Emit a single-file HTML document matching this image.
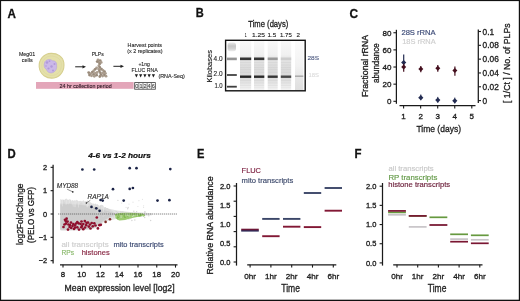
<!DOCTYPE html>
<html><head><meta charset="utf-8"><style>
html,body{margin:0;padding:0;background:#fff;}
body{width:520px;height:301px;overflow:hidden;}
svg{display:block;font-family:"Liberation Sans", sans-serif;will-change:transform;filter:blur(0.35px);}
</style></head><body>
<svg width="520" height="301" viewBox="0 0 520 301">
<rect x="0" y="0" width="520" height="301" fill="#fff"/>
<text x="7.4" y="17.5" font-size="12.5" fill="#111" text-anchor="start" stroke="#111" stroke-width="0.3" font-weight="bold" textLength="8.4" lengthAdjust="spacingAndGlyphs">A</text>
<text x="195.8" y="17.4" font-size="12.5" fill="#111" text-anchor="start" stroke="#111" stroke-width="0.3" font-weight="bold" textLength="8.0" lengthAdjust="spacingAndGlyphs">B</text>
<text x="349.6" y="17.6" font-size="12.5" fill="#111" text-anchor="start" stroke="#111" stroke-width="0.3" font-weight="bold" textLength="8.6" lengthAdjust="spacingAndGlyphs">C</text>
<text x="7.6" y="157.6" font-size="12.5" fill="#111" text-anchor="start" stroke="#111" stroke-width="0.3" font-weight="bold" textLength="8.2" lengthAdjust="spacingAndGlyphs">D</text>
<text x="197.0" y="157.8" font-size="12.5" fill="#111" text-anchor="start" stroke="#111" stroke-width="0.3" font-weight="bold" textLength="7.4" lengthAdjust="spacingAndGlyphs">E</text>
<text x="354.6" y="157.7" font-size="12.5" fill="#111" text-anchor="start" stroke="#111" stroke-width="0.3" font-weight="bold" textLength="7.0" lengthAdjust="spacingAndGlyphs">F</text>
<text x="18.9" y="55.8" font-size="5.8" fill="#262626" text-anchor="start" stroke="#262626" stroke-width="0.12" textLength="16.3" lengthAdjust="spacingAndGlyphs">Meg01</text>
<text x="21.8" y="62.1" font-size="5.8" fill="#262626" text-anchor="start" stroke="#262626" stroke-width="0.12" textLength="10.8" lengthAdjust="spacingAndGlyphs">cells</text>
<path d="M51,53.4 C57.5,53.2 62.8,56.5 63.8,62.5 C64.8,69.5 61.5,76.5 54,78 C46.5,79 40,74.5 39.2,67 C38.6,59.5 44,53.6 51,53.4 Z" fill="#e4e0aa" stroke="#d6cf8e" stroke-width="1.1"/>
<path d="M51,56 C56,56 60.5,58.8 61.2,63 C62,69 59,74.3 53.5,75.3 C47.5,76.2 42.5,72.5 41.8,66.5 C41.3,61 45.5,56.2 51,56 Z" fill="none" stroke="#ddd79e" stroke-width="0.7"/>
<path d="M46,60.5 C48,59 51,59.3 52.5,60.8 C55,60.5 57,62.5 56.6,65 C57.2,68 56,71.2 53,72.6 C50,73.6 47.2,72.2 46.5,69.5 C44.2,68.5 43.6,65 44.5,63 C44.6,62 45.2,61 46,60.5 Z" fill="#cbb9e8" stroke="#b39ddb" stroke-width="0.5"/>
<circle cx="47" cy="62.5" r="1.3" fill="#a88fd6" opacity="0.75"/>
<circle cx="49.5" cy="61.2" r="0.9" fill="#a88fd6" opacity="0.75"/>
<circle cx="51.5" cy="66.5" r="1.2" fill="#a88fd6" opacity="0.75"/>
<circle cx="54.5" cy="64" r="1.0" fill="#a88fd6" opacity="0.75"/>
<circle cx="48.5" cy="68.5" r="1.1" fill="#a88fd6" opacity="0.75"/>
<circle cx="53" cy="70.5" r="1.0" fill="#a88fd6" opacity="0.75"/>
<circle cx="46" cy="66" r="0.8" fill="#a88fd6" opacity="0.75"/>
<line x1="75.2" y1="66.8" x2="83.5" y2="66.8" stroke="#222" stroke-width="1"/>
<path d="M82.5,65.2 L86,66.8 L82.5,68.4 Z" fill="#222"/>
<line x1="113.4" y1="66.3" x2="121.5" y2="66.3" stroke="#222" stroke-width="1"/>
<path d="M120.5,64.7 L124,66.3 L120.5,67.9 Z" fill="#222"/>
<text x="91.7" y="55.8" font-size="5.8" fill="#262626" text-anchor="start" stroke="#262626" stroke-width="0.12" textLength="12" lengthAdjust="spacingAndGlyphs">PLPs</text>
<circle cx="98" cy="59.8" r="1.4" fill="#ab9d8e"/>
<circle cx="100.2" cy="60.6" r="1.4" fill="#998a7a"/>
<circle cx="99" cy="62.2" r="1.4" fill="#ab9d8e"/>
<circle cx="97.2" cy="61.6" r="1.4" fill="#998a7a"/>
<circle cx="101.2" cy="62.4" r="1.4" fill="#ab9d8e"/>
<circle cx="99.6" cy="64" r="1.4" fill="#998a7a"/>
<circle cx="98.8" cy="65.8" r="1.4" fill="#ab9d8e"/>
<circle cx="99.8" cy="67.5" r="1.4" fill="#998a7a"/>
<circle cx="98.8" cy="69.2" r="1.4" fill="#ab9d8e"/>
<circle cx="99.4" cy="71" r="1.4" fill="#998a7a"/>
<circle cx="96.6" cy="67.8" r="1.4" fill="#ab9d8e"/>
<circle cx="95.1" cy="69.3" r="1.4" fill="#998a7a"/>
<circle cx="93.7" cy="70.8" r="1.4" fill="#ab9d8e"/>
<circle cx="92.3" cy="72.2" r="1.4" fill="#998a7a"/>
<circle cx="90.9" cy="73.6" r="1.4" fill="#ab9d8e"/>
<circle cx="89.5" cy="75" r="1.4" fill="#998a7a"/>
<circle cx="91.5" cy="75.8" r="1.4" fill="#ab9d8e"/>
<circle cx="93.6" cy="74.4" r="1.4" fill="#998a7a"/>
<circle cx="95.3" cy="73.2" r="1.4" fill="#ab9d8e"/>
<circle cx="88.7" cy="72.6" r="1.4" fill="#998a7a"/>
<circle cx="94.3" cy="76.3" r="1.4" fill="#ab9d8e"/>
<circle cx="96.6" cy="75.2" r="1.4" fill="#998a7a"/>
<circle cx="97.2" cy="72.5" r="1.4" fill="#ab9d8e"/>
<circle cx="101.5" cy="69.2" r="1.4" fill="#998a7a"/>
<circle cx="103" cy="70.3" r="1.4" fill="#ab9d8e"/>
<circle cx="104.5" cy="71.6" r="1.4" fill="#998a7a"/>
<circle cx="105.4" cy="73.3" r="1.4" fill="#ab9d8e"/>
<circle cx="104.3" cy="75.1" r="1.4" fill="#998a7a"/>
<circle cx="102.6" cy="76.1" r="1.4" fill="#ab9d8e"/>
<circle cx="101" cy="74.6" r="1.4" fill="#998a7a"/>
<circle cx="106" cy="76.2" r="1.4" fill="#ab9d8e"/>
<circle cx="100.4" cy="72.8" r="1.4" fill="#998a7a"/>
<circle cx="103" cy="73.2" r="1.4" fill="#ab9d8e"/>
<circle cx="99.8" cy="76.5" r="1.4" fill="#998a7a"/>
<text x="127.6" y="46.9" font-size="5.8" fill="#262626" text-anchor="start" stroke="#262626" stroke-width="0.12" textLength="34.4" lengthAdjust="spacingAndGlyphs">Harvest points</text>
<text x="127.2" y="53.4" font-size="5.8" fill="#262626" text-anchor="start" stroke="#262626" stroke-width="0.12" textLength="35.4" lengthAdjust="spacingAndGlyphs">(x 2 replicates)</text>
<text x="138.4" y="65.9" font-size="6.0" fill="#262626" text-anchor="start" stroke="#262626" stroke-width="0.12" textLength="11.5" lengthAdjust="spacingAndGlyphs">+1ng</text>
<text x="131.5" y="71.9" font-size="6.0" fill="#262626" text-anchor="start" stroke="#262626" stroke-width="0.12" textLength="26.3" lengthAdjust="spacingAndGlyphs">FLUC RNA</text>
<path d="M134.8,74.3 L138.0,74.3 L136.4,77.5 Z" fill="#1a1a1a"/>
<path d="M139.05,74.3 L142.25,74.3 L140.65,77.5 Z" fill="#1a1a1a"/>
<path d="M143.3,74.3 L146.5,74.3 L144.9,77.5 Z" fill="#1a1a1a"/>
<path d="M147.55,74.3 L150.75,74.3 L149.15,77.5 Z" fill="#1a1a1a"/>
<path d="M151.8,74.3 L155.0,74.3 L153.4,77.5 Z" fill="#1a1a1a"/>
<text x="158.4" y="78.4" font-size="5.8" fill="#262626" text-anchor="start" stroke="#262626" stroke-width="0.12" textLength="26.5" lengthAdjust="spacingAndGlyphs">(RNA-Seq)</text>
<rect x="36" y="82" width="97.6" height="6.8" fill="#e3a6b9"/>
<text x="59.6" y="87.6" font-size="5.8" fill="#2a1520" text-anchor="start" stroke="#2a1520" stroke-width="0.1" textLength="52" lengthAdjust="spacingAndGlyphs">24 hr collection period</text>
<rect x="134.3" y="82.2" width="21.4" height="7.4" fill="#3a3a3a"/>
<rect x="135.1" y="83.0" width="3.5" height="5.8" fill="#fafafa"/>
<text x="136.85" y="87.7" font-size="5.6" fill="#444" text-anchor="middle" stroke="#444" stroke-width="0.1">0</text>
<rect x="139.2" y="83.0" width="3.5" height="5.8" fill="#fafafa"/>
<text x="140.95" y="87.7" font-size="5.6" fill="#444" text-anchor="middle" stroke="#444" stroke-width="0.1">1</text>
<rect x="143.29999999999998" y="83.0" width="3.5" height="5.8" fill="#fafafa"/>
<text x="145.04999999999998" y="87.7" font-size="5.6" fill="#444" text-anchor="middle" stroke="#444" stroke-width="0.1">2</text>
<rect x="147.4" y="83.0" width="3.5" height="5.8" fill="#fafafa"/>
<text x="149.15" y="87.7" font-size="5.6" fill="#444" text-anchor="middle" stroke="#444" stroke-width="0.1">4</text>
<rect x="151.5" y="83.0" width="3.5" height="5.8" fill="#fafafa"/>
<text x="153.25" y="87.7" font-size="5.6" fill="#444" text-anchor="middle" stroke="#444" stroke-width="0.1">6</text>
<text x="248.3" y="26.8" font-size="9.6" fill="#1e1e1e" text-anchor="start" stroke="#1e1e1e" stroke-width="0.32" textLength="40" lengthAdjust="spacingAndGlyphs">Time (days)</text>
<text x="244.7" y="37.4" font-size="5.8" fill="#1e1e1e" text-anchor="start" stroke="#1e1e1e" stroke-width="0.12" textLength="1.8" lengthAdjust="spacingAndGlyphs">1</text>
<text x="252" y="37.4" font-size="5.8" fill="#1e1e1e" text-anchor="start" stroke="#1e1e1e" stroke-width="0.12" textLength="13" lengthAdjust="spacingAndGlyphs">1.25</text>
<text x="267.6" y="37.4" font-size="5.8" fill="#1e1e1e" text-anchor="start" stroke="#1e1e1e" stroke-width="0.12" textLength="8.7" lengthAdjust="spacingAndGlyphs">1.5</text>
<text x="280" y="37.4" font-size="5.8" fill="#1e1e1e" text-anchor="start" stroke="#1e1e1e" stroke-width="0.12" textLength="11.8" lengthAdjust="spacingAndGlyphs">1.75</text>
<text x="296.5" y="37.4" font-size="5.8" fill="#1e1e1e" text-anchor="start" stroke="#1e1e1e" stroke-width="0.12" textLength="3.5" lengthAdjust="spacingAndGlyphs">2</text>
<defs><linearGradient id="lane" x1="0" y1="0" x2="0" y2="1"><stop offset="0" stop-color="#f8f8f8"/><stop offset="0.28" stop-color="#f0f0f0"/><stop offset="0.36" stop-color="#e4e4e4"/><stop offset="0.55" stop-color="#dcdcdc"/><stop offset="0.72" stop-color="#dadada"/><stop offset="0.82" stop-color="#e2e2e2"/><stop offset="1" stop-color="#f4f4f4"/></linearGradient><linearGradient id="lanef" x1="0" y1="0" x2="0" y2="1"><stop offset="0" stop-color="#fbfbfb"/><stop offset="0.5" stop-color="#f2f2f2"/><stop offset="0.75" stop-color="#e6e6e6"/><stop offset="1" stop-color="#dedede"/></linearGradient><linearGradient id="blob" x1="0" y1="0" x2="0" y2="1"><stop offset="0" stop-color="#e8e8e8"/><stop offset="0.4" stop-color="#c6c6c6"/><stop offset="0.7" stop-color="#d2d2d2"/><stop offset="1" stop-color="#ececec"/></linearGradient></defs>
<rect x="225.5" y="40.3" width="80" height="50.5" fill="#fff"/>
<rect x="227.6" y="42.6" width="8.4" height="8.6" fill="url(#blob)" rx="2.5"/>
<rect x="227" y="57.6" width="9.8" height="2.6" fill="#959595"/>
<rect x="227" y="74" width="9.8" height="2" fill="#555"/>
<rect x="227" y="85.8" width="9.8" height="1.8" fill="#3f3f3f"/>
<rect x="240" y="41" width="11.199999999999989" height="49.5" fill="url(#lane)"/>
<rect x="240" y="57.5" width="11.199999999999989" height="2.6" fill="#333"/>
<rect x="240" y="75.5" width="11.199999999999989" height="2.4" fill="#262626"/>
<rect x="254" y="41" width="10.300000000000011" height="49.5" fill="url(#lane)"/>
<rect x="254" y="57.5" width="10.300000000000011" height="2.6" fill="#363636"/>
<rect x="254" y="75.5" width="10.300000000000011" height="2.4" fill="#2a2a2a"/>
<rect x="267.7" y="41" width="10.0" height="49.5" fill="url(#lane)"/>
<rect x="267.7" y="57.5" width="10.0" height="2.6" fill="#9a9a9a"/>
<rect x="267.7" y="75.5" width="10.0" height="2.4" fill="#363636"/>
<rect x="280.8" y="41" width="10.399999999999977" height="49.5" fill="url(#lane)"/>
<rect x="280.8" y="57.5" width="10.399999999999977" height="2.6" fill="#cdcdcd"/>
<rect x="280.8" y="75.5" width="10.399999999999977" height="2.4" fill="#484848"/>
<rect x="295" y="41" width="8.300000000000011" height="49.5" fill="url(#lanef)"/>
<rect x="295" y="75.5" width="8.300000000000011" height="1.4" fill="#a6a6a6"/>
<rect x="240" y="62.2" width="11.199999999999989" height="0.8" fill="#000" opacity="0.045"/>
<rect x="240" y="64.6" width="11.199999999999989" height="0.8" fill="#000" opacity="0.045"/>
<rect x="240" y="67" width="11.199999999999989" height="0.8" fill="#000" opacity="0.045"/>
<rect x="240" y="69.4" width="11.199999999999989" height="0.8" fill="#000" opacity="0.045"/>
<rect x="240" y="71.8" width="11.199999999999989" height="0.8" fill="#000" opacity="0.045"/>
<rect x="240" y="80.2" width="11.199999999999989" height="0.8" fill="#000" opacity="0.045"/>
<rect x="240" y="82.6" width="11.199999999999989" height="0.8" fill="#000" opacity="0.045"/>
<rect x="240" y="85" width="11.199999999999989" height="0.8" fill="#000" opacity="0.045"/>
<rect x="240" y="87.4" width="11.199999999999989" height="0.8" fill="#000" opacity="0.045"/>
<rect x="254" y="62.2" width="10.300000000000011" height="0.8" fill="#000" opacity="0.045"/>
<rect x="254" y="64.6" width="10.300000000000011" height="0.8" fill="#000" opacity="0.045"/>
<rect x="254" y="67" width="10.300000000000011" height="0.8" fill="#000" opacity="0.045"/>
<rect x="254" y="69.4" width="10.300000000000011" height="0.8" fill="#000" opacity="0.045"/>
<rect x="254" y="71.8" width="10.300000000000011" height="0.8" fill="#000" opacity="0.045"/>
<rect x="254" y="80.2" width="10.300000000000011" height="0.8" fill="#000" opacity="0.045"/>
<rect x="254" y="82.6" width="10.300000000000011" height="0.8" fill="#000" opacity="0.045"/>
<rect x="254" y="85" width="10.300000000000011" height="0.8" fill="#000" opacity="0.045"/>
<rect x="254" y="87.4" width="10.300000000000011" height="0.8" fill="#000" opacity="0.045"/>
<rect x="267.7" y="62.2" width="10.0" height="0.8" fill="#000" opacity="0.045"/>
<rect x="267.7" y="64.6" width="10.0" height="0.8" fill="#000" opacity="0.045"/>
<rect x="267.7" y="67" width="10.0" height="0.8" fill="#000" opacity="0.045"/>
<rect x="267.7" y="69.4" width="10.0" height="0.8" fill="#000" opacity="0.045"/>
<rect x="267.7" y="71.8" width="10.0" height="0.8" fill="#000" opacity="0.045"/>
<rect x="267.7" y="80.2" width="10.0" height="0.8" fill="#000" opacity="0.045"/>
<rect x="267.7" y="82.6" width="10.0" height="0.8" fill="#000" opacity="0.045"/>
<rect x="267.7" y="85" width="10.0" height="0.8" fill="#000" opacity="0.045"/>
<rect x="267.7" y="87.4" width="10.0" height="0.8" fill="#000" opacity="0.045"/>
<rect x="280.8" y="62.2" width="10.399999999999977" height="0.8" fill="#000" opacity="0.045"/>
<rect x="280.8" y="64.6" width="10.399999999999977" height="0.8" fill="#000" opacity="0.045"/>
<rect x="280.8" y="67" width="10.399999999999977" height="0.8" fill="#000" opacity="0.045"/>
<rect x="280.8" y="69.4" width="10.399999999999977" height="0.8" fill="#000" opacity="0.045"/>
<rect x="280.8" y="71.8" width="10.399999999999977" height="0.8" fill="#000" opacity="0.045"/>
<rect x="280.8" y="80.2" width="10.399999999999977" height="0.8" fill="#000" opacity="0.045"/>
<rect x="280.8" y="82.6" width="10.399999999999977" height="0.8" fill="#000" opacity="0.045"/>
<rect x="280.8" y="85" width="10.399999999999977" height="0.8" fill="#000" opacity="0.045"/>
<rect x="280.8" y="87.4" width="10.399999999999977" height="0.8" fill="#000" opacity="0.045"/>
<rect x="225.6" y="40.3" width="79.6" height="50.5" fill="none" stroke="#111" stroke-width="1.4"/>
<text x="211.6" y="82.6" font-size="7.8" fill="#1e1e1e" text-anchor="start" stroke="#1e1e1e" stroke-width="0.15" textLength="32.6" lengthAdjust="spacingAndGlyphs" transform="rotate(-90 211.6 82.6)">Kilobases</text>
<text x="213.6" y="61" font-size="7" fill="#1e1e1e" text-anchor="start" stroke="#1e1e1e" stroke-width="0.12" textLength="9.0" lengthAdjust="spacingAndGlyphs">4.0</text>
<text x="213.6" y="76.4" font-size="7" fill="#1e1e1e" text-anchor="start" stroke="#1e1e1e" stroke-width="0.12" textLength="9.0" lengthAdjust="spacingAndGlyphs">2.0</text>
<text x="214.4" y="88" font-size="7" fill="#1e1e1e" text-anchor="start" stroke="#1e1e1e" stroke-width="0.12" textLength="8.3" lengthAdjust="spacingAndGlyphs">1.0</text>
<text x="307.4" y="60.4" font-size="6.2" fill="#4d5a80" text-anchor="start" stroke="#4d5a80" stroke-width="0.12" textLength="11.6" lengthAdjust="spacingAndGlyphs">28S</text>
<text x="308.5" y="77.4" font-size="6.2" fill="#d8d8d8" text-anchor="start" stroke="#d8d8d8" stroke-width="0.06" textLength="10.5" lengthAdjust="spacingAndGlyphs">18S</text>
<line x1="396.4" y1="29.8" x2="396.4" y2="103.8" stroke="#1a1a1a" stroke-width="1.25"/>
<line x1="393.4" y1="101.3" x2="396.4" y2="101.3" stroke="#1a1a1a" stroke-width="1.1"/>
<text x="391.4" y="104.1" font-size="8" fill="#1e1e1e" text-anchor="end" stroke="#1e1e1e" stroke-width="0.32">0</text>
<line x1="393.4" y1="84.16" x2="396.4" y2="84.16" stroke="#1a1a1a" stroke-width="1.1"/>
<text x="391.4" y="86.96" font-size="8" fill="#1e1e1e" text-anchor="end" stroke="#1e1e1e" stroke-width="0.32">20</text>
<line x1="393.4" y1="67.02" x2="396.4" y2="67.02" stroke="#1a1a1a" stroke-width="1.1"/>
<text x="391.4" y="69.82" font-size="8" fill="#1e1e1e" text-anchor="end" stroke="#1e1e1e" stroke-width="0.32">40</text>
<line x1="393.4" y1="49.879999999999995" x2="396.4" y2="49.879999999999995" stroke="#1a1a1a" stroke-width="1.1"/>
<text x="391.4" y="52.67999999999999" font-size="8" fill="#1e1e1e" text-anchor="end" stroke="#1e1e1e" stroke-width="0.32">60</text>
<line x1="393.4" y1="32.739999999999995" x2="396.4" y2="32.739999999999995" stroke="#1a1a1a" stroke-width="1.1"/>
<text x="391.4" y="35.53999999999999" font-size="8" fill="#1e1e1e" text-anchor="end" stroke="#1e1e1e" stroke-width="0.32">80</text>
<line x1="399.5" y1="105.6" x2="475.5" y2="105.6" stroke="#1a1a1a" stroke-width="1.25"/>
<line x1="403.6" y1="105.6" x2="403.6" y2="108.4" stroke="#1a1a1a" stroke-width="1.1"/>
<text x="403.6" y="119.0" font-size="8" fill="#1e1e1e" text-anchor="middle" stroke="#1e1e1e" stroke-width="0.32">1</text>
<line x1="420.65000000000003" y1="105.6" x2="420.65000000000003" y2="108.4" stroke="#1a1a1a" stroke-width="1.1"/>
<text x="420.65000000000003" y="119.0" font-size="8" fill="#1e1e1e" text-anchor="middle" stroke="#1e1e1e" stroke-width="0.32">2</text>
<line x1="437.70000000000005" y1="105.6" x2="437.70000000000005" y2="108.4" stroke="#1a1a1a" stroke-width="1.1"/>
<text x="437.70000000000005" y="119.0" font-size="8" fill="#1e1e1e" text-anchor="middle" stroke="#1e1e1e" stroke-width="0.32">3</text>
<line x1="454.75" y1="105.6" x2="454.75" y2="108.4" stroke="#1a1a1a" stroke-width="1.1"/>
<text x="454.75" y="119.0" font-size="8" fill="#1e1e1e" text-anchor="middle" stroke="#1e1e1e" stroke-width="0.32">4</text>
<line x1="471.8" y1="105.6" x2="471.8" y2="108.4" stroke="#1a1a1a" stroke-width="1.1"/>
<text x="471.8" y="119.0" font-size="8" fill="#1e1e1e" text-anchor="middle" stroke="#1e1e1e" stroke-width="0.32">5</text>
<text x="416.4" y="132.0" font-size="9.8" fill="#1e1e1e" text-anchor="start" stroke="#1e1e1e" stroke-width="0.32" textLength="44.6" lengthAdjust="spacingAndGlyphs">Time (days)</text>
<line x1="478.3" y1="29.5" x2="478.3" y2="103" stroke="#1a1a1a" stroke-width="1.25"/>
<line x1="478.3" y1="100.6" x2="481" y2="100.6" stroke="#1a1a1a" stroke-width="1.1"/>
<text x="482.6" y="103.69999999999999" font-size="8.3" fill="#1e1e1e" text-anchor="start" stroke="#1e1e1e" stroke-width="0.32">0</text>
<line x1="478.3" y1="86.78" x2="481" y2="86.78" stroke="#1a1a1a" stroke-width="1.1"/>
<text x="482.6" y="89.88" font-size="8.3" fill="#1e1e1e" text-anchor="start" stroke="#1e1e1e" stroke-width="0.32">0.02</text>
<line x1="478.3" y1="72.96" x2="481" y2="72.96" stroke="#1a1a1a" stroke-width="1.1"/>
<text x="482.6" y="76.05999999999999" font-size="8.3" fill="#1e1e1e" text-anchor="start" stroke="#1e1e1e" stroke-width="0.32">0.04</text>
<line x1="478.3" y1="59.13999999999999" x2="481" y2="59.13999999999999" stroke="#1a1a1a" stroke-width="1.1"/>
<text x="482.6" y="62.239999999999995" font-size="8.3" fill="#1e1e1e" text-anchor="start" stroke="#1e1e1e" stroke-width="0.32">0.06</text>
<line x1="478.3" y1="45.31999999999999" x2="481" y2="45.31999999999999" stroke="#1a1a1a" stroke-width="1.1"/>
<text x="482.6" y="48.419999999999995" font-size="8.3" fill="#1e1e1e" text-anchor="start" stroke="#1e1e1e" stroke-width="0.32">0.08</text>
<line x1="478.3" y1="31.5" x2="481" y2="31.5" stroke="#1a1a1a" stroke-width="1.1"/>
<text x="482.6" y="34.6" font-size="8.3" fill="#1e1e1e" text-anchor="start" stroke="#1e1e1e" stroke-width="0.32">0.1</text>
<text x="510.3" y="103" font-size="9.2" fill="#1e1e1e" text-anchor="start" stroke="#1e1e1e" stroke-width="0.32" textLength="79.6" lengthAdjust="spacingAndGlyphs" transform="rotate(-90 510.3 103)">[ 1/Ct ] / No. of PLPs</text>
<text x="368.4" y="97" font-size="8.3" fill="#1e1e1e" text-anchor="start" stroke="#1e1e1e" stroke-width="0.32" textLength="62" lengthAdjust="spacingAndGlyphs" transform="rotate(-90 368.4 97)">Fractional rRNA</text>
<text x="378.6" y="82.9" font-size="8.3" fill="#1e1e1e" text-anchor="start" stroke="#1e1e1e" stroke-width="0.32" textLength="39.5" lengthAdjust="spacingAndGlyphs" transform="rotate(-90 378.6 82.9)">abundance</text>
<text x="401.4" y="34.9" font-size="7.6" fill="#3e4c78" text-anchor="start" stroke="#3e4c78" stroke-width="0.18" textLength="34.3" lengthAdjust="spacingAndGlyphs">28S rRNA</text>
<text x="402.2" y="43.7" font-size="7.6" fill="#cfcfcf" text-anchor="start" stroke="#cfcfcf" stroke-width="0.18" textLength="33.5" lengthAdjust="spacingAndGlyphs">18S rRNA</text>
<line x1="403.7" y1="54.5" x2="403.7" y2="65.5" stroke="#232c52" stroke-width="1.2"/>
<path d="M403.7,59.9 L406.3,62.5 L403.7,65.1 L401.09999999999997,62.5 Z" fill="#232c52"/>
<line x1="420.8" y1="94.5" x2="420.8" y2="100.3" stroke="#232c52" stroke-width="1.0"/>
<path d="M420.8,95.10000000000001 L423.40000000000003,97.7 L420.8,100.3 L418.2,97.7 Z" fill="#232c52"/>
<line x1="437.8" y1="96.89999999999999" x2="437.8" y2="102.69999999999999" stroke="#232c52" stroke-width="1.0"/>
<path d="M437.8,97.5 L440.40000000000003,100.1 L437.8,102.69999999999999 L435.2,100.1 Z" fill="#232c52"/>
<line x1="454.8" y1="97.6" x2="454.8" y2="103.39999999999999" stroke="#232c52" stroke-width="1.0"/>
<path d="M454.8,98.2 L457.40000000000003,100.8 L454.8,103.39999999999999 L452.2,100.8 Z" fill="#232c52"/>
<line x1="403.7" y1="63.8" x2="403.7" y2="71.7" stroke="#45101f" stroke-width="1.2"/>
<path d="M403.7,64.5 L406.2,67 L403.7,69.5 L401.2,67 Z" fill="#45101f"/>
<line x1="420.8" y1="65.9" x2="420.8" y2="72.2" stroke="#45101f" stroke-width="1.2"/>
<path d="M420.8,66.5 L423.3,69 L420.8,71.5 L418.3,69 Z" fill="#45101f"/>
<line x1="437.8" y1="64.9" x2="437.8" y2="71.8" stroke="#45101f" stroke-width="1.2"/>
<path d="M437.8,65.7 L440.3,68.2 L437.8,70.7 L435.3,68.2 Z" fill="#45101f"/>
<line x1="454.9" y1="66.5" x2="454.9" y2="75.7" stroke="#45101f" stroke-width="1.2"/>
<path d="M454.9,68.1 L457.4,70.6 L454.9,73.1 L452.4,70.6 Z" fill="#45101f"/>
<text x="88.3" y="158.4" font-size="7.9" fill="#111" text-anchor="start" stroke="#111" stroke-width="0.22" font-weight="bold" font-style="italic" textLength="62.5" lengthAdjust="spacingAndGlyphs">4-6 vs 1-2 hours</text>
<line x1="53.1" y1="164.7" x2="53.1" y2="263.5" stroke="#1a1a1a" stroke-width="1.25"/>
<line x1="50.6" y1="167.34" x2="53.1" y2="167.34" stroke="#1a1a1a" stroke-width="1.1"/>
<text x="47.2" y="169.84" font-size="7.4" fill="#1e1e1e" text-anchor="end" stroke="#1e1e1e" stroke-width="0.32">2</text>
<line x1="50.6" y1="190.67000000000002" x2="53.1" y2="190.67000000000002" stroke="#1a1a1a" stroke-width="1.1"/>
<text x="47.2" y="193.17000000000002" font-size="7.4" fill="#1e1e1e" text-anchor="end" stroke="#1e1e1e" stroke-width="0.32">1</text>
<line x1="50.6" y1="214.0" x2="53.1" y2="214.0" stroke="#1a1a1a" stroke-width="1.1"/>
<text x="47.2" y="216.5" font-size="7.4" fill="#1e1e1e" text-anchor="end" stroke="#1e1e1e" stroke-width="0.32">0</text>
<line x1="50.6" y1="237.32999999999998" x2="53.1" y2="237.32999999999998" stroke="#1a1a1a" stroke-width="1.1"/>
<text x="47.2" y="239.82999999999998" font-size="7.4" fill="#1e1e1e" text-anchor="end" stroke="#1e1e1e" stroke-width="0.32">−1</text>
<line x1="50.6" y1="260.65999999999997" x2="53.1" y2="260.65999999999997" stroke="#1a1a1a" stroke-width="1.1"/>
<text x="47.2" y="263.15999999999997" font-size="7.4" fill="#1e1e1e" text-anchor="end" stroke="#1e1e1e" stroke-width="0.32">−2</text>
<line x1="60" y1="264.8" x2="177.5" y2="264.8" stroke="#1a1a1a" stroke-width="1.25"/>
<line x1="63.0" y1="264.8" x2="63.0" y2="267.6" stroke="#1a1a1a" stroke-width="1.1"/>
<text x="63.0" y="277.1" font-size="7.9" fill="#1e1e1e" text-anchor="middle" stroke="#1e1e1e" stroke-width="0.32">8</text>
<line x1="81.75" y1="264.8" x2="81.75" y2="267.6" stroke="#1a1a1a" stroke-width="1.1"/>
<text x="81.75" y="277.1" font-size="7.9" fill="#1e1e1e" text-anchor="middle" stroke="#1e1e1e" stroke-width="0.32">10</text>
<line x1="100.5" y1="264.8" x2="100.5" y2="267.6" stroke="#1a1a1a" stroke-width="1.1"/>
<text x="100.5" y="277.1" font-size="7.9" fill="#1e1e1e" text-anchor="middle" stroke="#1e1e1e" stroke-width="0.32">12</text>
<line x1="119.25" y1="264.8" x2="119.25" y2="267.6" stroke="#1a1a1a" stroke-width="1.1"/>
<text x="119.25" y="277.1" font-size="7.9" fill="#1e1e1e" text-anchor="middle" stroke="#1e1e1e" stroke-width="0.32">14</text>
<line x1="138.0" y1="264.8" x2="138.0" y2="267.6" stroke="#1a1a1a" stroke-width="1.1"/>
<text x="138.0" y="277.1" font-size="7.9" fill="#1e1e1e" text-anchor="middle" stroke="#1e1e1e" stroke-width="0.32">16</text>
<line x1="156.75" y1="264.8" x2="156.75" y2="267.6" stroke="#1a1a1a" stroke-width="1.1"/>
<text x="156.75" y="277.1" font-size="7.9" fill="#1e1e1e" text-anchor="middle" stroke="#1e1e1e" stroke-width="0.32">18</text>
<line x1="175.5" y1="264.8" x2="175.5" y2="267.6" stroke="#1a1a1a" stroke-width="1.1"/>
<text x="175.5" y="277.1" font-size="7.9" fill="#1e1e1e" text-anchor="middle" stroke="#1e1e1e" stroke-width="0.32">20</text>
<text x="64.6" y="291.4" font-size="9.6" fill="#1e1e1e" text-anchor="start" stroke="#1e1e1e" stroke-width="0.32" textLength="110" lengthAdjust="spacingAndGlyphs">Mean expression level [log2]</text>
<text x="22.6" y="245" font-size="8.8" fill="#1e1e1e" text-anchor="start" stroke="#1e1e1e" stroke-width="0.32" textLength="61.5" lengthAdjust="spacingAndGlyphs" transform="rotate(-90 22.6 245)">log2FoldChange</text>
<text x="33.6" y="243" font-size="8.8" fill="#1e1e1e" text-anchor="start" stroke="#1e1e1e" stroke-width="0.32" textLength="56" lengthAdjust="spacingAndGlyphs" transform="rotate(-90 33.6 243)">(PELO vs GFP)</text>
<path d="M98,206.5 L108,208.6 L117,210.6 L130,212 L142,212.6 L152,213.2 L152,215.2 L142,216 L130,217 L118,218.6 L108,221 L100,223.5 Z" fill="#e3e3e3"/>
<path d="M60.3,199.1 L61.4,199.7 L62.5,199.4 L63.6,199.8 L64.7,199.8 L65.8,198.8 L66.9,198.7 L68.0,200.2 L69.1,199.3 L70.2,199.3 L71.3,200.8 L72.4,199.9 L73.5,200.7 L74.6,200.2 L75.7,200.5 L76.8,199.8 L77.9,200.7 L79.0,201.3 L80.1,200.7 L81.2,201.2 L82.3,201.2 L83.4,200.2 L84.5,201.5 L85.6,201.3 L86.7,200.9 L87.8,200.5 L88.9,202.3 L90.0,202.0 L91.1,202.8 L92.2,203.4 L93.3,203.4 L94.4,204.1 L95.5,203.5 L96.6,204.6 L97.7,204.3 L98.8,205.5 L99.9,205.8 L101.0,204.7 L102.1,205.1 L103.2,205.6 L104.3,207.4 L105.4,207.0 L106.5,208.0 L107.6,208.0 L108.7,209.0 L109.8,209.4 L110.9,210.0 L112.0,211.0 L113.1,211.6 L114.2,212.8 L115.3,213.0 L116.4,214.1 L117.5,213.6 L118,215.2 L114,216.6 L108,218.6 L104,221 L100,224.5 L96,228 L90,229.6 L80,230.2 L70,230.4 L62,230.6 L60.3,230.3 Z" fill="#d9d9d9"/>
<path d="M60.3,203.5 L70,204 L80,204.8 L90,206.2 L98,208 L106,210.5 L112,212.6 L116,213.8 L112,216.2 L104,220 L98,225 L90,229 L60.3,229.6 Z" fill="#cdcdcd"/>
<line x1="61.0" y1="199.1" x2="61.0" y2="204.7" stroke="#fff" stroke-width="0.45" opacity="0.65"/>
<line x1="62.6" y1="199.1" x2="62.6" y2="206.3" stroke="#fff" stroke-width="0.45" opacity="0.65"/>
<line x1="64.3" y1="199.1" x2="64.3" y2="201.7" stroke="#fff" stroke-width="0.45" opacity="0.54"/>
<line x1="66.1" y1="199.1" x2="66.1" y2="204.8" stroke="#fff" stroke-width="0.45" opacity="0.71"/>
<line x1="67.1" y1="199.1" x2="67.1" y2="203.9" stroke="#fff" stroke-width="0.45" opacity="0.45"/>
<line x1="68.5" y1="199.1" x2="68.5" y2="204.5" stroke="#fff" stroke-width="0.45" opacity="0.36"/>
<line x1="69.6" y1="199.2" x2="69.6" y2="203.1" stroke="#fff" stroke-width="0.45" opacity="0.72"/>
<line x1="71.2" y1="199.4" x2="71.2" y2="202.7" stroke="#fff" stroke-width="0.45" opacity="0.67"/>
<line x1="72.2" y1="199.5" x2="72.2" y2="205.1" stroke="#fff" stroke-width="0.45" opacity="0.40"/>
<line x1="73.1" y1="199.6" x2="73.1" y2="206.4" stroke="#fff" stroke-width="0.45" opacity="0.43"/>
<line x1="74.2" y1="199.7" x2="74.2" y2="207.1" stroke="#fff" stroke-width="0.45" opacity="0.70"/>
<line x1="75.4" y1="199.8" x2="75.4" y2="207.1" stroke="#fff" stroke-width="0.45" opacity="0.57"/>
<line x1="76.9" y1="199.9" x2="76.9" y2="203.4" stroke="#fff" stroke-width="0.45" opacity="0.73"/>
<line x1="78.4" y1="200.0" x2="78.4" y2="207.4" stroke="#fff" stroke-width="0.45" opacity="0.71"/>
<line x1="79.6" y1="200.1" x2="79.6" y2="204.4" stroke="#fff" stroke-width="0.45" opacity="0.42"/>
<line x1="80.6" y1="200.2" x2="80.6" y2="203.1" stroke="#fff" stroke-width="0.45" opacity="0.47"/>
<line x1="82.0" y1="200.4" x2="82.0" y2="202.9" stroke="#fff" stroke-width="0.45" opacity="0.62"/>
<line x1="83.2" y1="200.5" x2="83.2" y2="204.5" stroke="#fff" stroke-width="0.45" opacity="0.68"/>
<line x1="84.6" y1="200.6" x2="84.6" y2="204.7" stroke="#fff" stroke-width="0.45" opacity="0.54"/>
<line x1="86.1" y1="200.7" x2="86.1" y2="203.5" stroke="#fff" stroke-width="0.45" opacity="0.74"/>
<line x1="87.0" y1="200.8" x2="87.0" y2="207.1" stroke="#fff" stroke-width="0.45" opacity="0.69"/>
<line x1="87.9" y1="200.9" x2="87.9" y2="207.3" stroke="#fff" stroke-width="0.45" opacity="0.50"/>
<line x1="89.4" y1="201.3" x2="89.4" y2="203.9" stroke="#fff" stroke-width="0.45" opacity="0.37"/>
<line x1="90.4" y1="201.6" x2="90.4" y2="208.9" stroke="#fff" stroke-width="0.45" opacity="0.43"/>
<line x1="92.0" y1="202.1" x2="92.0" y2="209.3" stroke="#fff" stroke-width="0.45" opacity="0.73"/>
<line x1="93.2" y1="202.5" x2="93.2" y2="206.8" stroke="#fff" stroke-width="0.45" opacity="0.56"/>
<line x1="94.8" y1="203.0" x2="94.8" y2="206.0" stroke="#fff" stroke-width="0.45" opacity="0.65"/>
<line x1="96.4" y1="203.5" x2="96.4" y2="210.3" stroke="#fff" stroke-width="0.45" opacity="0.36"/>
<line x1="98.2" y1="204.1" x2="98.2" y2="207.0" stroke="#fff" stroke-width="0.45" opacity="0.49"/>
<line x1="99.6" y1="204.5" x2="99.6" y2="211.6" stroke="#fff" stroke-width="0.45" opacity="0.49"/>
<line x1="101.4" y1="205.0" x2="101.4" y2="210.3" stroke="#fff" stroke-width="0.45" opacity="0.47"/>
<line x1="102.5" y1="205.4" x2="102.5" y2="208.8" stroke="#fff" stroke-width="0.45" opacity="0.38"/>
<line x1="103.6" y1="205.7" x2="103.6" y2="211.7" stroke="#fff" stroke-width="0.45" opacity="0.75"/>
<circle cx="113.5" cy="217.0" r="0.75" fill="#d6d6d6"/>
<circle cx="99.1" cy="218.1" r="0.75" fill="#d6d6d6"/>
<circle cx="125.5" cy="213.2" r="0.75" fill="#d6d6d6"/>
<circle cx="123.9" cy="214.9" r="0.75" fill="#d6d6d6"/>
<circle cx="97.1" cy="212.8" r="0.75" fill="#d6d6d6"/>
<circle cx="100.2" cy="214.5" r="0.75" fill="#d6d6d6"/>
<circle cx="119.2" cy="214.8" r="0.75" fill="#d6d6d6"/>
<circle cx="107.7" cy="212.4" r="0.75" fill="#d6d6d6"/>
<circle cx="130.8" cy="218.3" r="0.75" fill="#d6d6d6"/>
<circle cx="117.6" cy="212.5" r="0.75" fill="#d6d6d6"/>
<circle cx="150.6" cy="220.6" r="0.75" fill="#d6d6d6"/>
<circle cx="111.5" cy="216.0" r="0.75" fill="#d6d6d6"/>
<circle cx="103.2" cy="216.2" r="0.75" fill="#d6d6d6"/>
<circle cx="141.5" cy="216.0" r="0.75" fill="#d6d6d6"/>
<circle cx="105.3" cy="209.6" r="0.75" fill="#d6d6d6"/>
<circle cx="116.2" cy="211.5" r="0.75" fill="#d6d6d6"/>
<circle cx="126.2" cy="215.1" r="0.75" fill="#d6d6d6"/>
<circle cx="106.7" cy="214.5" r="0.75" fill="#d6d6d6"/>
<circle cx="133.8" cy="211.3" r="0.75" fill="#d6d6d6"/>
<circle cx="128.4" cy="215.3" r="0.75" fill="#d6d6d6"/>
<circle cx="120.8" cy="212.1" r="0.75" fill="#d6d6d6"/>
<circle cx="134.8" cy="219.9" r="0.75" fill="#d6d6d6"/>
<circle cx="108.9" cy="210.2" r="0.75" fill="#d6d6d6"/>
<circle cx="144.9" cy="212.1" r="0.75" fill="#d6d6d6"/>
<circle cx="136.6" cy="211.7" r="0.75" fill="#d6d6d6"/>
<circle cx="101.7" cy="223.5" r="0.75" fill="#d6d6d6"/>
<circle cx="118.8" cy="214.1" r="0.75" fill="#d6d6d6"/>
<circle cx="122.9" cy="212.0" r="0.75" fill="#d6d6d6"/>
<circle cx="97.2" cy="211.1" r="0.75" fill="#d6d6d6"/>
<circle cx="127.7" cy="208.8" r="0.75" fill="#d6d6d6"/>
<circle cx="144.9" cy="211.9" r="0.75" fill="#d6d6d6"/>
<circle cx="128.9" cy="219.0" r="0.75" fill="#d6d6d6"/>
<circle cx="128.1" cy="207.6" r="0.75" fill="#d6d6d6"/>
<circle cx="148.8" cy="215.8" r="0.75" fill="#d6d6d6"/>
<circle cx="122.0" cy="213.4" r="0.75" fill="#d6d6d6"/>
<circle cx="135.0" cy="212.9" r="0.75" fill="#d6d6d6"/>
<circle cx="131.9" cy="220.5" r="0.75" fill="#d6d6d6"/>
<circle cx="111.2" cy="213.7" r="0.75" fill="#d6d6d6"/>
<circle cx="117.0" cy="213.6" r="0.75" fill="#d6d6d6"/>
<circle cx="121.3" cy="213.3" r="0.75" fill="#d6d6d6"/>
<circle cx="104.6" cy="214.9" r="0.75" fill="#d6d6d6"/>
<circle cx="138.8" cy="214.8" r="0.75" fill="#d6d6d6"/>
<circle cx="102.4" cy="214.1" r="0.75" fill="#d6d6d6"/>
<circle cx="144.7" cy="217.5" r="0.75" fill="#d6d6d6"/>
<circle cx="99.6" cy="209.8" r="0.75" fill="#d6d6d6"/>
<circle cx="143.6" cy="205.8" r="0.6" fill="#e2e2e2"/>
<circle cx="142.5" cy="199.3" r="0.6" fill="#e2e2e2"/>
<circle cx="117.8" cy="200.3" r="0.6" fill="#e2e2e2"/>
<circle cx="143.6" cy="207.5" r="0.6" fill="#e2e2e2"/>
<circle cx="103.3" cy="198.1" r="0.6" fill="#e2e2e2"/>
<circle cx="107.8" cy="198.8" r="0.6" fill="#e2e2e2"/>
<circle cx="121.7" cy="203.1" r="0.6" fill="#e2e2e2"/>
<circle cx="109.5" cy="196.0" r="0.6" fill="#e2e2e2"/>
<circle cx="118.0" cy="200.4" r="0.6" fill="#e2e2e2"/>
<circle cx="126.1" cy="207.4" r="0.6" fill="#e2e2e2"/>
<circle cx="133.0" cy="202.2" r="0.6" fill="#e2e2e2"/>
<circle cx="129.0" cy="204.1" r="0.6" fill="#e2e2e2"/>
<circle cx="98.0" cy="206.8" r="0.6" fill="#e2e2e2"/>
<circle cx="137.9" cy="206.5" r="0.6" fill="#e2e2e2"/>
<circle cx="138.9" cy="200.7" r="0.6" fill="#e2e2e2"/>
<path d="M115.5,214.2 Q119,212.6 127,212.8 Q136,213 142.5,213.6 Q145.6,214.4 143.8,215.8 Q137,216.9 131,218.2 Q125,220.6 119.5,220.6 Q114.6,219 115.5,214.2 Z" fill="#9dcb72"/>
<circle cx="128.4" cy="214.4" r="0.8" fill="#c4dcb4"/>
<circle cx="128.4" cy="215.3" r="0.8" fill="#8cbf5c"/>
<circle cx="120.9" cy="216.4" r="0.8" fill="#8cbf5c"/>
<circle cx="138.1" cy="215.3" r="0.8" fill="#78b048"/>
<circle cx="128.2" cy="216.4" r="0.8" fill="#78b048"/>
<circle cx="132.5" cy="216.3" r="0.8" fill="#c4dcb4"/>
<circle cx="143.0" cy="215.4" r="0.8" fill="#82b851"/>
<circle cx="133.3" cy="215.2" r="0.8" fill="#8cbf5c"/>
<circle cx="117.3" cy="218.4" r="0.8" fill="#8cbf5c"/>
<circle cx="116.4" cy="216.7" r="0.8" fill="#c4dcb4"/>
<circle cx="124.8" cy="215.5" r="0.8" fill="#82b851"/>
<circle cx="133.7" cy="215.6" r="0.8" fill="#c4dcb4"/>
<circle cx="115.6" cy="217.7" r="0.8" fill="#c4dcb4"/>
<circle cx="143.9" cy="215.5" r="0.8" fill="#78b048"/>
<circle cx="135.7" cy="215.6" r="0.8" fill="#b8da98"/>
<circle cx="116.3" cy="217.0" r="0.8" fill="#8cbf5c"/>
<circle cx="137.3" cy="215.1" r="0.8" fill="#c4dcb4"/>
<circle cx="117.4" cy="217.4" r="0.8" fill="#78b048"/>
<circle cx="139.6" cy="215.8" r="0.8" fill="#78b048"/>
<circle cx="128.9" cy="215.9" r="0.8" fill="#c4dcb4"/>
<circle cx="127.5" cy="215.4" r="0.8" fill="#b8da98"/>
<circle cx="125.1" cy="215.7" r="0.8" fill="#b8da98"/>
<circle cx="125.0" cy="217.3" r="0.8" fill="#78b048"/>
<circle cx="119.3" cy="215.7" r="0.8" fill="#78b048"/>
<circle cx="115.8" cy="214.9" r="0.8" fill="#8cbf5c"/>
<circle cx="120.9" cy="216.3" r="0.8" fill="#8cbf5c"/>
<circle cx="120.9" cy="216.0" r="0.8" fill="#c4dcb4"/>
<circle cx="118.8" cy="215.6" r="0.8" fill="#c4dcb4"/>
<circle cx="143.7" cy="215.7" r="0.8" fill="#8cbf5c"/>
<circle cx="124.2" cy="216.0" r="0.8" fill="#78b048"/>
<circle cx="121.5" cy="214.5" r="0.8" fill="#8cbf5c"/>
<circle cx="118.4" cy="217.4" r="0.8" fill="#82b851"/>
<circle cx="121.6" cy="216.0" r="0.8" fill="#b8da98"/>
<circle cx="139.2" cy="216.1" r="0.8" fill="#c4dcb4"/>
<circle cx="117.6" cy="217.4" r="0.8" fill="#82b851"/>
<circle cx="115.9" cy="217.0" r="0.8" fill="#b8da98"/>
<circle cx="126.1" cy="214.0" r="0.8" fill="#c4dcb4"/>
<circle cx="139.2" cy="215.8" r="0.8" fill="#82b851"/>
<circle cx="140.2" cy="215.6" r="0.8" fill="#82b851"/>
<circle cx="138.8" cy="215.8" r="0.8" fill="#82b851"/>
<circle cx="136.2" cy="216.0" r="0.8" fill="#8cbf5c"/>
<circle cx="121.1" cy="217.2" r="0.8" fill="#c4dcb4"/>
<circle cx="140.6" cy="215.4" r="0.8" fill="#78b048"/>
<circle cx="118.6" cy="215.4" r="0.8" fill="#8cbf5c"/>
<circle cx="142.9" cy="215.5" r="0.8" fill="#b8da98"/>
<line x1="58.3" y1="214.0" x2="177" y2="214.0" stroke="#444" stroke-width="0.9" stroke-dasharray="0.9 1.1"/>
<circle cx="66.6" cy="218.7" r="1.35" fill="#8e0f2d"/>
<circle cx="66" cy="221.3" r="1.35" fill="#8e0f2d"/>
<circle cx="67.6" cy="221.6" r="1.35" fill="#8e0f2d"/>
<circle cx="66" cy="223.6" r="1.35" fill="#8e0f2d"/>
<circle cx="71" cy="222.6" r="1.35" fill="#8e0f2d"/>
<circle cx="73.3" cy="224" r="1.35" fill="#8e0f2d"/>
<circle cx="75" cy="225.3" r="1.35" fill="#8e0f2d"/>
<circle cx="77.3" cy="222" r="1.35" fill="#8e0f2d"/>
<circle cx="78.6" cy="223.3" r="1.35" fill="#8e0f2d"/>
<circle cx="80.6" cy="224" r="1.35" fill="#8e0f2d"/>
<circle cx="69.6" cy="227" r="1.35" fill="#8e0f2d"/>
<circle cx="71.3" cy="228" r="1.35" fill="#8e0f2d"/>
<circle cx="68" cy="229.6" r="1.35" fill="#8e0f2d"/>
<circle cx="75" cy="227.6" r="1.35" fill="#8e0f2d"/>
<circle cx="77.3" cy="227.3" r="1.35" fill="#8e0f2d"/>
<circle cx="79" cy="229.6" r="1.35" fill="#8e0f2d"/>
<circle cx="81.3" cy="227.3" r="1.35" fill="#8e0f2d"/>
<circle cx="81.5" cy="221.5" r="1.35" fill="#8e0f2d"/>
<circle cx="84.8" cy="221.1" r="1.35" fill="#8e0f2d"/>
<circle cx="83.3" cy="224" r="1.35" fill="#8e0f2d"/>
<circle cx="86.2" cy="225.2" r="1.35" fill="#8e0f2d"/>
<circle cx="88" cy="222.6" r="1.35" fill="#8e0f2d"/>
<circle cx="88.8" cy="226.6" r="1.35" fill="#8e0f2d"/>
<circle cx="91.7" cy="223" r="1.35" fill="#8e0f2d"/>
<circle cx="94.3" cy="223.3" r="1.35" fill="#8e0f2d"/>
<circle cx="92.8" cy="226.3" r="1.35" fill="#8e0f2d"/>
<circle cx="83.3" cy="229.2" r="1.35" fill="#8e0f2d"/>
<circle cx="96.8" cy="217.5" r="1.35" fill="#8e0f2d"/>
<circle cx="99.4" cy="225.2" r="1.35" fill="#8e0f2d"/>
<circle cx="100.8" cy="224.8" r="1.35" fill="#8e0f2d"/>
<circle cx="97.9" cy="228.4" r="1.35" fill="#8e0f2d"/>
<circle cx="64.5" cy="224.5" r="1.35" fill="#8e0f2d"/>
<circle cx="63.5" cy="227" r="1.35" fill="#8e0f2d"/>
<circle cx="70" cy="225" r="1.35" fill="#8e0f2d"/>
<circle cx="72.5" cy="226" r="1.35" fill="#8e0f2d"/>
<circle cx="76" cy="223.5" r="1.35" fill="#8e0f2d"/>
<circle cx="82" cy="226" r="1.35" fill="#8e0f2d"/>
<circle cx="85" cy="227.5" r="1.35" fill="#8e0f2d"/>
<circle cx="90" cy="224.5" r="1.35" fill="#8e0f2d"/>
<circle cx="86.5" cy="222.8" r="1.35" fill="#8e0f2d"/>
<circle cx="95.5" cy="225.5" r="1.35" fill="#8e0f2d"/>
<circle cx="90.5" cy="228.5" r="1.35" fill="#8e0f2d"/>
<circle cx="68.5" cy="224.5" r="1.35" fill="#8e0f2d"/>
<circle cx="74" cy="229" r="1.35" fill="#8e0f2d"/>
<circle cx="65" cy="219.8" r="1.35" fill="#8e0f2d"/>
<circle cx="105.6" cy="221.9" r="1.3" fill="#7a2a24"/>
<circle cx="110" cy="219.3" r="1.3" fill="#7a2a24"/>
<circle cx="82.4" cy="169.5" r="1.35" fill="#1b2346"/>
<circle cx="94.2" cy="169.5" r="1.35" fill="#1b2346"/>
<circle cx="129.7" cy="168.2" r="1.35" fill="#1b2346"/>
<circle cx="136.5" cy="168.2" r="1.35" fill="#1b2346"/>
<circle cx="170.3" cy="169.1" r="1.35" fill="#1b2346"/>
<circle cx="113" cy="189.2" r="1.35" fill="#1b2346"/>
<circle cx="129.7" cy="188.9" r="1.35" fill="#1b2346"/>
<circle cx="132.9" cy="188" r="1.35" fill="#1b2346"/>
<circle cx="123.7" cy="200.6" r="1.35" fill="#1b2346"/>
<circle cx="157.5" cy="200.6" r="1.35" fill="#1b2346"/>
<circle cx="169.4" cy="200.2" r="1.35" fill="#1b2346"/>
<circle cx="100.6" cy="200" r="1.35" fill="#1b2346"/>
<circle cx="102.7" cy="200.6" r="1.35" fill="#1b2346"/>
<circle cx="91.5" cy="206.9" r="1.35" fill="#1b2346"/>
<circle cx="96.3" cy="208.3" r="1.35" fill="#1b2346"/>
<circle cx="99.6" cy="210.8" r="1.35" fill="#1b2346"/>
<text x="56.8" y="187.8" font-size="6.6" fill="#2a2a2a" text-anchor="start" stroke="#2a2a2a" stroke-width="0.12" font-style="italic" textLength="21.4" lengthAdjust="spacingAndGlyphs">MYD88</text>
<line x1="67.1" y1="189.2" x2="72.7" y2="191.8" stroke="#333" stroke-width="0.55"/>
<circle cx="72.8" cy="191.9" r="0.8" fill="#222"/>
<text x="87.5" y="198.7" font-size="6.6" fill="#2a2a2a" text-anchor="start" stroke="#2a2a2a" stroke-width="0.12" font-style="italic" textLength="21.3" lengthAdjust="spacingAndGlyphs">RAP1A</text>
<line x1="90.3" y1="200.3" x2="86.5" y2="202.9" stroke="#333" stroke-width="0.55"/>
<circle cx="86.4" cy="203" r="0.8" fill="#222"/>
<text x="61.4" y="246.6" font-size="7.6" fill="#cdcdcd" text-anchor="start" stroke="#cdcdcd" stroke-width="0.15" textLength="47.4" lengthAdjust="spacingAndGlyphs">all transcripts</text>
<text x="113.4" y="246.6" font-size="7.6" fill="#3a4870" text-anchor="start" stroke="#3a4870" stroke-width="0.15" textLength="50.4" lengthAdjust="spacingAndGlyphs">mito transcripts</text>
<text x="61.4" y="255" font-size="7.6" fill="#88b86a" text-anchor="start" stroke="#88b86a" stroke-width="0.15" textLength="12.6" lengthAdjust="spacingAndGlyphs">RPs</text>
<text x="81.7" y="255" font-size="7.6" fill="#862440" text-anchor="start" stroke="#862440" stroke-width="0.15" textLength="28" lengthAdjust="spacingAndGlyphs">histones</text>
<line x1="236.5" y1="183" x2="236.5" y2="265.6" stroke="#1a1a1a" stroke-width="1.25"/>
<line x1="233.6" y1="186.0" x2="236.5" y2="186.0" stroke="#1a1a1a" stroke-width="1.1"/>
<line x1="233.6" y1="201.2" x2="236.5" y2="201.2" stroke="#1a1a1a" stroke-width="1.1"/>
<line x1="233.6" y1="216.4" x2="236.5" y2="216.4" stroke="#1a1a1a" stroke-width="1.1"/>
<line x1="233.6" y1="231.6" x2="236.5" y2="231.6" stroke="#1a1a1a" stroke-width="1.1"/>
<line x1="233.6" y1="246.8" x2="236.5" y2="246.8" stroke="#1a1a1a" stroke-width="1.1"/>
<line x1="233.6" y1="262.0" x2="236.5" y2="262.0" stroke="#1a1a1a" stroke-width="1.1"/>
<text x="230.4" y="188.6" font-size="7.5" fill="#1e1e1e" text-anchor="end" stroke="#1e1e1e" stroke-width="0.32">2.0</text>
<text x="230.4" y="207.6" font-size="7.5" fill="#1e1e1e" text-anchor="end" stroke="#1e1e1e" stroke-width="0.32">1.5</text>
<text x="230.4" y="226.6" font-size="7.5" fill="#1e1e1e" text-anchor="end" stroke="#1e1e1e" stroke-width="0.32">1.0</text>
<text x="230.4" y="245.6" font-size="7.5" fill="#1e1e1e" text-anchor="end" stroke="#1e1e1e" stroke-width="0.32">0.5</text>
<text x="230.4" y="264.6" font-size="7.5" fill="#1e1e1e" text-anchor="end" stroke="#1e1e1e" stroke-width="0.32">0.0</text>
<line x1="247.2" y1="264.8" x2="336.3" y2="264.8" stroke="#1a1a1a" stroke-width="1.25"/>
<line x1="250.1" y1="264.8" x2="250.1" y2="267.6" stroke="#1a1a1a" stroke-width="1.1"/>
<text x="250.1" y="279.0" font-size="8.1" fill="#1e1e1e" text-anchor="middle" stroke="#1e1e1e" stroke-width="0.32">0hr</text>
<line x1="270.9" y1="264.8" x2="270.9" y2="267.6" stroke="#1a1a1a" stroke-width="1.1"/>
<text x="270.9" y="279.0" font-size="8.1" fill="#1e1e1e" text-anchor="middle" stroke="#1e1e1e" stroke-width="0.32">1hr</text>
<line x1="291.7" y1="264.8" x2="291.7" y2="267.6" stroke="#1a1a1a" stroke-width="1.1"/>
<text x="291.7" y="279.0" font-size="8.1" fill="#1e1e1e" text-anchor="middle" stroke="#1e1e1e" stroke-width="0.32">2hr</text>
<line x1="312.5" y1="264.8" x2="312.5" y2="267.6" stroke="#1a1a1a" stroke-width="1.1"/>
<text x="312.5" y="279.0" font-size="8.1" fill="#1e1e1e" text-anchor="middle" stroke="#1e1e1e" stroke-width="0.32">4hr</text>
<line x1="333.3" y1="264.8" x2="333.3" y2="267.6" stroke="#1a1a1a" stroke-width="1.1"/>
<text x="333.3" y="279.0" font-size="8.1" fill="#1e1e1e" text-anchor="middle" stroke="#1e1e1e" stroke-width="0.32">6hr</text>
<text x="281.3" y="291.9" font-size="10.6" fill="#1e1e1e" text-anchor="start" stroke="#1e1e1e" stroke-width="0.32" textLength="18.7" lengthAdjust="spacingAndGlyphs">Time</text>
<text x="213.2" y="274.6" font-size="8.7" fill="#1e1e1e" text-anchor="start" stroke="#1e1e1e" stroke-width="0.32" textLength="98.2" lengthAdjust="spacingAndGlyphs" transform="rotate(-90 213.2 274.6)">Relative RNA abundance</text>
<text x="241.6" y="173.3" font-size="7.5" fill="#7e2242" text-anchor="start" stroke="#7e2242" stroke-width="0.15" textLength="19.4" lengthAdjust="spacingAndGlyphs">FLUC</text>
<text x="241.6" y="182.6" font-size="7.5" fill="#3d4a6c" text-anchor="start" stroke="#3d4a6c" stroke-width="0.15" textLength="51.7" lengthAdjust="spacingAndGlyphs">mito transcripts</text>
<line x1="262.2" y1="218.9" x2="279.59999999999997" y2="218.9" stroke="#3b4668" stroke-width="1.9"/>
<line x1="262.2" y1="236.2" x2="279.59999999999997" y2="236.2" stroke="#821835" stroke-width="1.9"/>
<line x1="283.0" y1="218.9" x2="300.4" y2="218.9" stroke="#3b4668" stroke-width="1.9"/>
<line x1="283.0" y1="226.7" x2="300.4" y2="226.7" stroke="#821835" stroke-width="1.9"/>
<line x1="303.8" y1="193" x2="321.2" y2="193" stroke="#3b4668" stroke-width="1.9"/>
<line x1="303.8" y1="227.1" x2="321.2" y2="227.1" stroke="#821835" stroke-width="1.9"/>
<line x1="324.6" y1="188" x2="342.0" y2="188" stroke="#3b4668" stroke-width="1.9"/>
<line x1="324.6" y1="210.7" x2="342.0" y2="210.7" stroke="#821835" stroke-width="1.9"/>
<line x1="241.2" y1="230.8" x2="258.8" y2="230.8" stroke="#2c2d5a" stroke-width="1.6"/>
<line x1="241.2" y1="229.5" x2="258.8" y2="229.5" stroke="#6c1636" stroke-width="1.6"/>
<line x1="382.5" y1="183" x2="382.5" y2="265.6" stroke="#1a1a1a" stroke-width="1.25"/>
<line x1="379.6" y1="186.2" x2="382.5" y2="186.2" stroke="#1a1a1a" stroke-width="1.1"/>
<text x="376.4" y="188.79999999999998" font-size="7.5" fill="#1e1e1e" text-anchor="end" stroke="#1e1e1e" stroke-width="0.32">2.0</text>
<line x1="379.6" y1="205.37499999999997" x2="382.5" y2="205.37499999999997" stroke="#1a1a1a" stroke-width="1.1"/>
<text x="376.4" y="207.97499999999997" font-size="7.5" fill="#1e1e1e" text-anchor="end" stroke="#1e1e1e" stroke-width="0.32">1.5</text>
<line x1="379.6" y1="224.54999999999998" x2="382.5" y2="224.54999999999998" stroke="#1a1a1a" stroke-width="1.1"/>
<text x="376.4" y="227.14999999999998" font-size="7.5" fill="#1e1e1e" text-anchor="end" stroke="#1e1e1e" stroke-width="0.32">1.0</text>
<line x1="379.6" y1="243.72499999999997" x2="382.5" y2="243.72499999999997" stroke="#1a1a1a" stroke-width="1.1"/>
<text x="376.4" y="246.32499999999996" font-size="7.5" fill="#1e1e1e" text-anchor="end" stroke="#1e1e1e" stroke-width="0.32">0.5</text>
<line x1="379.6" y1="262.9" x2="382.5" y2="262.9" stroke="#1a1a1a" stroke-width="1.1"/>
<text x="376.4" y="265.5" font-size="7.5" fill="#1e1e1e" text-anchor="end" stroke="#1e1e1e" stroke-width="0.32">0.0</text>
<line x1="393.2" y1="264.8" x2="482.5" y2="264.8" stroke="#1a1a1a" stroke-width="1.25"/>
<line x1="397" y1="264.8" x2="397" y2="267.6" stroke="#1a1a1a" stroke-width="1.1"/>
<text x="397" y="279.4" font-size="8.1" fill="#1e1e1e" text-anchor="middle" stroke="#1e1e1e" stroke-width="0.32">0hr</text>
<line x1="417.7" y1="264.8" x2="417.7" y2="267.6" stroke="#1a1a1a" stroke-width="1.1"/>
<text x="417.7" y="279.4" font-size="8.1" fill="#1e1e1e" text-anchor="middle" stroke="#1e1e1e" stroke-width="0.32">1hr</text>
<line x1="438.4" y1="264.8" x2="438.4" y2="267.6" stroke="#1a1a1a" stroke-width="1.1"/>
<text x="438.4" y="279.4" font-size="8.1" fill="#1e1e1e" text-anchor="middle" stroke="#1e1e1e" stroke-width="0.32">2hr</text>
<line x1="459.1" y1="264.8" x2="459.1" y2="267.6" stroke="#1a1a1a" stroke-width="1.1"/>
<text x="459.1" y="279.4" font-size="8.1" fill="#1e1e1e" text-anchor="middle" stroke="#1e1e1e" stroke-width="0.32">4hr</text>
<line x1="479.8" y1="264.8" x2="479.8" y2="267.6" stroke="#1a1a1a" stroke-width="1.1"/>
<text x="479.8" y="279.4" font-size="8.1" fill="#1e1e1e" text-anchor="middle" stroke="#1e1e1e" stroke-width="0.32">6hr</text>
<text x="427.8" y="291.7" font-size="10.6" fill="#1e1e1e" text-anchor="start" stroke="#1e1e1e" stroke-width="0.32" textLength="18.6" lengthAdjust="spacingAndGlyphs">Time</text>
<text x="388.4" y="170.8" font-size="7.6" fill="#c8c8c8" text-anchor="start" stroke="#c8c8c8" stroke-width="0.15" textLength="45.3" lengthAdjust="spacingAndGlyphs">all transcripts</text>
<text x="388.4" y="179.5" font-size="7.6" fill="#649a48" text-anchor="start" stroke="#649a48" stroke-width="0.15" textLength="48.9" lengthAdjust="spacingAndGlyphs">RP transcripts</text>
<text x="388.2" y="187.4" font-size="7.6" fill="#681a35" text-anchor="start" stroke="#681a35" stroke-width="0.15" textLength="62" lengthAdjust="spacingAndGlyphs">histone transcripts</text>
<line x1="388.1" y1="214.8" x2="405.9" y2="214.8" stroke="#c8c4c8" stroke-width="1.7"/>
<line x1="388.1" y1="212.4" x2="405.9" y2="212.4" stroke="#66993f" stroke-width="1.7"/>
<line x1="388.1" y1="210.9" x2="405.9" y2="210.9" stroke="#7a1632" stroke-width="1.7"/>
<line x1="408.8" y1="226.9" x2="426.59999999999997" y2="226.9" stroke="#c8c4c8" stroke-width="1.7"/>
<line x1="408.8" y1="215.9" x2="426.59999999999997" y2="215.9" stroke="#66993f" stroke-width="1.7"/>
<line x1="408.8" y1="215.9" x2="426.59999999999997" y2="215.9" stroke="#7a1632" stroke-width="1.7"/>
<line x1="429.5" y1="225" x2="447.29999999999995" y2="225" stroke="#c8c4c8" stroke-width="1.7"/>
<line x1="429.5" y1="217.3" x2="447.29999999999995" y2="217.3" stroke="#66993f" stroke-width="1.7"/>
<line x1="429.5" y1="225" x2="447.29999999999995" y2="225" stroke="#7a1632" stroke-width="1.7"/>
<line x1="450.20000000000005" y1="239.1" x2="468.0" y2="239.1" stroke="#c8c4c8" stroke-width="1.7"/>
<line x1="450.20000000000005" y1="234.3" x2="468.0" y2="234.3" stroke="#66993f" stroke-width="1.7"/>
<line x1="450.20000000000005" y1="241.7" x2="468.0" y2="241.7" stroke="#7a1632" stroke-width="1.7"/>
<line x1="470.90000000000003" y1="239.8" x2="488.7" y2="239.8" stroke="#c8c4c8" stroke-width="1.7"/>
<line x1="470.90000000000003" y1="235.3" x2="488.7" y2="235.3" stroke="#66993f" stroke-width="1.7"/>
<line x1="470.90000000000003" y1="243.3" x2="488.7" y2="243.3" stroke="#7a1632" stroke-width="1.7"/>
<rect x="0" y="0" width="520" height="1.1" fill="#111"/><rect x="0" y="0" width="1.1" height="301" fill="#111"/><rect x="518.8" y="0" width="1.2" height="301" fill="#111"/><rect x="0" y="299.7" width="520" height="1.3" fill="#111"/>
</svg>
</body></html>
